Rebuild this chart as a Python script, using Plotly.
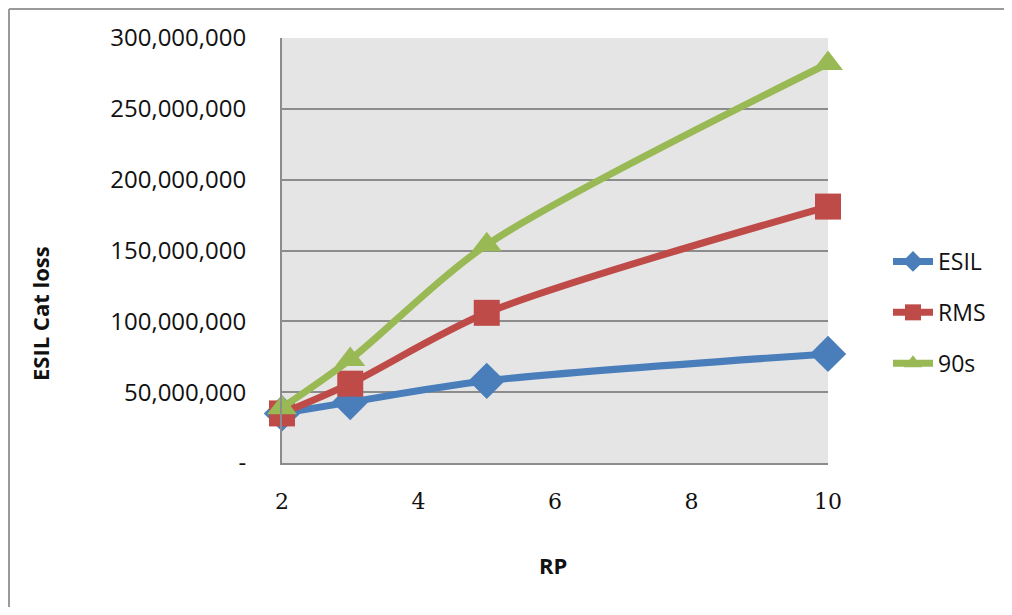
import plotly.graph_objects as go

rp = [2, 3, 5, 10]
esil = [35e6, 43e6, 58e6, 77e6]
rms = [35e6, 56e6, 106e6, 181e6]
s90 = [39e6, 73e6, 154e6, 282e6]

series_names = ["ESIL", "RMS", "90s"]
series_vals = [esil, rms, s90]
colors = ["#4A7EBB", "#BE4B48", "#98B954"]
symbols = ["diamond", "square", "triangle-up"]
msizes = [28, 26, 26]

y_tickvals = [0, 50e6, 100e6, 150e6, 200e6, 250e6, 300e6]
y_ticktext = ["-", "50,000,000", "100,000,000", "150,000,000", "200,000,000", "250,000,000", "300,000,000"]
x_tickvals = [2, 4, 6, 8, 10]

# page has an 8px body margin: the figure starts at page (8, 8)
OFF = 8
W, H = 996, 599
L, T = 282 - OFF, 38 - OFF
pw, ph = 546, 425
R = W - L - pw
B = H - T - ph


def px_x(page_x):
    return (page_x - OFF - L) / pw


def px_y(page_y):
    return (T + ph - (page_y - OFF)) / ph


fig = go.Figure()
for name, vals, c, s, ms in zip(series_names, series_vals, colors, symbols, msizes):
    fig.add_trace(go.Scatter(
        x=rp, y=vals, name=name, mode="lines+markers", legendgroup=name,
        line=dict(color=c, width=7, shape="spline", smoothing=0.8),
        marker=dict(symbol=s, size=ms, color=c),
        cliponaxis=False,
    ))

fig.update_layout(
    width=W, height=H,
    margin=dict(l=L, r=R, t=T, b=B),
    paper_bgcolor="white",
    plot_bgcolor="#E5E5E5",
    showlegend=True,
    legend=dict(
        x=px_x(888), y=px_y(240), xanchor="left", yanchor="top",
        font=dict(family="Open Sans", size=23, color="#111111"),
        itemwidth=40, tracegroupgap=18,
        bgcolor="rgba(0,0,0,0)",
    ),
    xaxis=dict(
        range=[2, 10], tickvals=x_tickvals, showgrid=False, zeroline=False,
        showline=True, linecolor="#8C8C8C", linewidth=2,
        ticks="", ticklen=0, ticklabelstandoff=18,
        tickfont=dict(family="DejaVu Serif", size=22, color="#111111"),
    ),
    yaxis=dict(
        range=[0, 300e6], tickvals=y_tickvals, ticktext=y_ticktext,
        showgrid=True, gridcolor="#8C8C8C", gridwidth=1.5, zeroline=False,
        showline=True, linecolor="#8C8C8C", linewidth=2,
        ticks="", ticklabelstandoff=29,
        tickfont=dict(family="Open Sans", size=24, color="#111111"),
    ),
    annotations=[
        dict(text="<b>ESIL Cat loss</b>", xref="paper", yref="paper",
             x=px_x(40), y=px_y(314), xanchor="center", yanchor="middle",
             textangle=-90, showarrow=False,
             font=dict(family="Open Sans", size=22, color="#111111")),
        dict(text="<b>RP</b>", xref="paper", yref="paper",
             x=px_x(553), y=px_y(565), xanchor="center", yanchor="middle",
             showarrow=False,
             font=dict(family="Open Sans", size=22, color="#111111")),
    ],
    shapes=[
        dict(type="line", xref="paper", yref="paper",
             x0=px_x(OFF + 1), x1=px_x(OFF + W), y0=px_y(OFF + 1), y1=px_y(OFF + 1),
             line=dict(color="#9A9A9A", width=2)),
        dict(type="line", xref="paper", yref="paper",
             x0=px_x(OFF + 1), x1=px_x(OFF + 1), y0=px_y(OFF + 1), y1=px_y(OFF + H),
             line=dict(color="#9A9A9A", width=2)),
    ],
)

fig.write_html("out.html")
